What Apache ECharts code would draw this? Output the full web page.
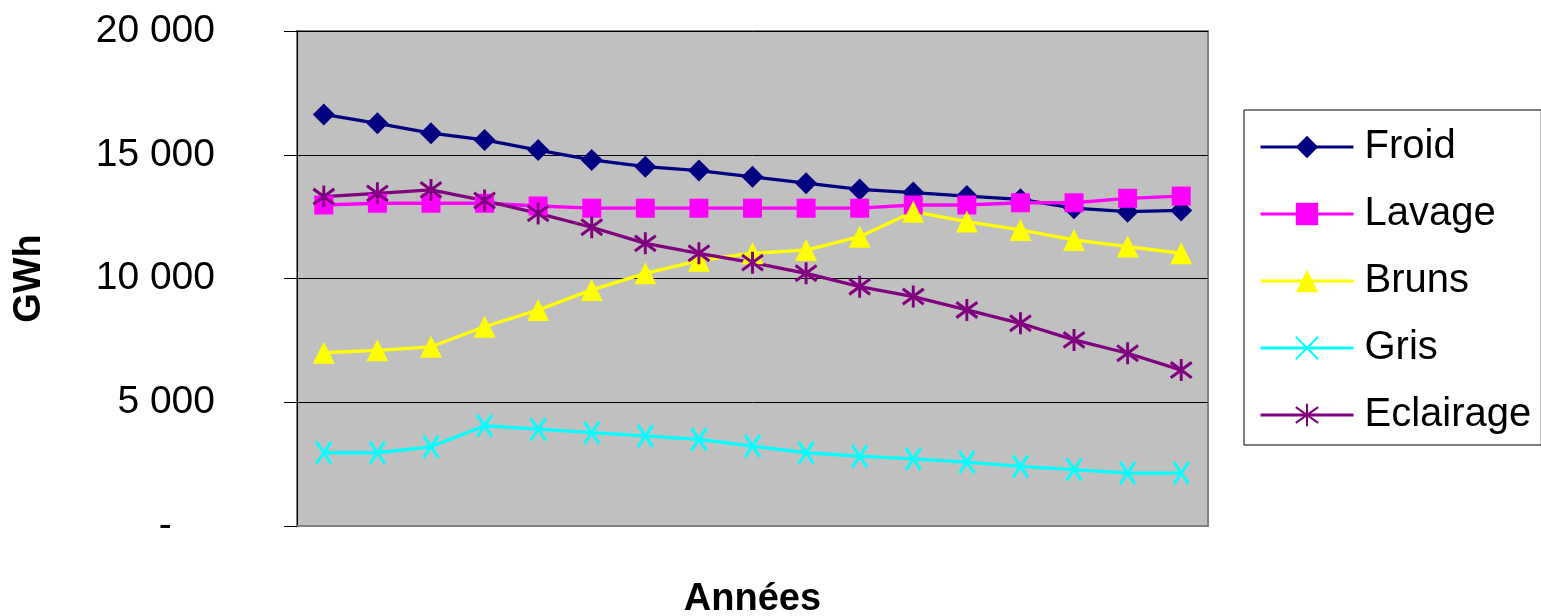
<!DOCTYPE html>
<html>
<head>
<meta charset="utf-8">
<script src="https://cdn.jsdelivr.net/npm/echarts@6/dist/echarts.min.js"></script>
<style>html,body{margin:0;padding:0;background:#fff;}#c{width:1541px;height:616px;}</style>
</head>
<body>
<div id="c"></div>
<script>
const categories = ['1','2','3','4','5','6','7','8','9','10','11','12','13','14','15','16','17'];
const froid = [16630, 16270, 15870, 15600, 15190, 14790, 14520, 14360, 14110, 13850, 13600, 13470, 13330, 13200, 12840, 12700, 12750];
const lavage = [12970, 13040, 13040, 13040, 12930, 12840, 12840, 12840, 12840, 12840, 12840, 12970, 12970, 13060, 13060, 13240, 13330];
const bruns = [7000, 7100, 7240, 8050, 8730, 9540, 10210, 10720, 11020, 11150, 11690, 12700, 12300, 11960, 11560, 11290, 11020];
const gris = [2960, 2960, 3200, 4050, 3910, 3770, 3640, 3500, 3230, 2960, 2820, 2710, 2580, 2410, 2280, 2140, 2140];
const eclairage = [13310, 13440, 13580, 13150, 12630, 12070, 11420, 11020, 10640, 10210, 9670, 9270, 8730, 8190, 7520, 6980, 6300];
const yTicks = [0, 5000, 10000, 15000, 20000];

const chart = echarts.init(document.getElementById('c'));
const font = '"Liberation Sans", Arial, sans-serif';
function mk(name, data, color, symbol, size, stroke) {
  return {
    name: name, type: 'line', data: data,
    symbol: symbol, symbolSize: size, showSymbol: true,
    lineStyle: {color: color, width: 3.3},
    itemStyle: stroke ? {color: color, borderColor: color, borderWidth: 3} : {color: color, borderWidth: 0},
    emphasis: {disabled: true},
    animation: false, z: 3
  };
}
chart.setOption({
  animation: false,
  backgroundColor: '#ffffff',
  textStyle: {fontFamily: font},
  grid: {left: 297, right: 333, top: 31, bottom: 90, outerBoundsMode: 'none', containLabel: false,
    show: true, backgroundColor: '#C0C0C0', borderColor: '#808080', borderWidth: 2},
  legend: {
    orient: 'vertical', left: 1244, top: 110,
    backgroundColor: '#ffffff', borderColor: '#000000', borderWidth: 1,
    padding: [15, 10, 8, 15], itemGap: 23, itemWidth: 93, itemHeight: 28,
    lineStyle: {width: 3},
    textStyle: {fontSize: 40, lineHeight: 44, color: '#000', fontFamily: font, padding: [0, 0, 0, 6]},
    data: ['Froid', 'Lavage', 'Bruns', 'Gris', 'Eclairage']
  },
  xAxis: {
    type: 'category', data: categories, boundaryGap: true,
    name: 'Années', nameLocation: 'middle', nameGap: 55,
    nameTextStyle: {fontSize: 38, fontWeight: 'bold', color: '#000', fontFamily: font},
    axisLine: {show: true, lineStyle: {color: '#808080', width: 2}},
    axisTick: {show: false}, axisLabel: {show: false}, splitLine: {show: false}
  },
  yAxis: {
    type: 'value', min: 0, max: 20000, interval: 5000,
    name: 'GWh', nameLocation: 'middle', nameGap: 248, nameRotate: 90,
    nameTextStyle: {fontSize: 38, fontWeight: 'bold', color: '#000', fontFamily: font},
    axisLine: {show: true, lineStyle: {color: '#000', width: 1}},
    axisTick: {show: true, inside: false, length: 13, lineStyle: {color: '#000'}},
    axisLabel: {margin: 82, fontSize: 39, color: '#000', fontFamily: font,
      formatter: function (v) { if (v === 0) return '-\u00a0\u00a0\u00a0\u00a0'; return String(v).replace(/\B(?=(\d{3})+(?!\d))/g, ' '); }},
    splitLine: {show: true, lineStyle: {color: '#000', width: 1}}
  },
  series: [
    mk('Froid', froid, '#000080', 'diamond', 22, false),
    mk('Lavage', lavage, '#FF00FF', 'rect', 19, false),
    mk('Bruns', bruns, '#FFFF00', 'triangle', 22, false),
    mk('Gris', gris, '#00FFFF', 'path://M0,0L14,20M14,0L0,20', [15, 22], true),
    mk('Eclairage', eclairage, '#800080', 'path://M0,3L20,17M20,3L0,17M10,0L10,20', [21, 22], true)
  ]
});
</script>
</body>
</html>
